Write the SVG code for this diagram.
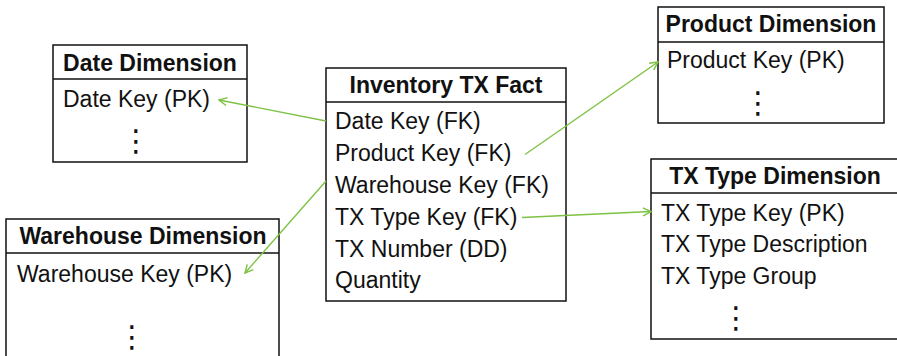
<svg xmlns="http://www.w3.org/2000/svg" width="897" height="356" viewBox="0 0 897 356">
<defs>
<marker id="arr" markerUnits="userSpaceOnUse" markerWidth="12" markerHeight="12" refX="9" refY="5" orient="auto">
<path d="M1,1 L9,5 L1,9" fill="none" stroke="#7dc242" stroke-width="1.4"/>
</marker>
<style>
.box{fill:#fff;stroke:#111;stroke-width:1.5}
.div{stroke:#111;stroke-width:1.5}
.hd{font-family:"Liberation Sans",Arial,sans-serif;font-size:23px;font-weight:bold;fill:#111;text-anchor:middle}
.tx{font-family:"Liberation Sans",Arial,sans-serif;font-size:23px;fill:#111}
.dots{font-family:"DejaVu Sans",sans-serif;font-size:30px;fill:#111;text-anchor:middle}
.con{fill:none;stroke:#7dc242;stroke-width:1.4;marker-end:url(#arr)}
</style>
</defs>
<rect width="897" height="356" fill="#fff"/>
<g id="date-dimension">
<rect class="box" x="53" y="45" width="194" height="117"/>
<line class="div" x1="53" y1="79" x2="247" y2="79"/>
<text class="hd" x="150" y="71">Date Dimension</text>
<text class="tx" x="63" y="107">Date Key (PK)</text>
<text class="dots" x="136" y="151">⋮</text>
</g>
<g id="inventory-tx-fact">
<rect class="box" x="326" y="68" width="240" height="233"/>
<line class="div" x1="326" y1="102" x2="566" y2="102"/>
<text class="hd" x="446" y="93">Inventory TX Fact</text>
<text class="tx" x="335" y="128.5">Date Key (FK)</text>
<text class="tx" x="335" y="160.5">Product Key (FK)</text>
<text class="tx" x="335" y="192.5">Warehouse Key (FK)</text>
<text class="tx" x="335" y="224.5">TX Type Key (FK)</text>
<text class="tx" x="335" y="256.5">TX Number (DD)</text>
<text class="tx" x="335" y="288">Quantity</text>
</g>
<g id="product-dimension">
<rect class="box" x="658" y="7" width="226" height="116"/>
<line class="div" x1="658" y1="42" x2="884" y2="42"/>
<text class="hd" x="771" y="32">Product Dimension</text>
<text class="tx" x="667" y="68">Product Key (PK)</text>
<text class="dots" x="758" y="113">⋮</text>
</g>
<g id="warehouse-dimension">
<rect class="box" x="6" y="219" width="273" height="150"/>
<line class="div" x1="6" y1="253" x2="279" y2="253"/>
<text class="hd" x="143" y="244">Warehouse Dimension</text>
<text class="tx" x="17" y="282">Warehouse Key (PK)</text>
<text class="dots" x="132" y="347">⋮</text>
</g>
<g id="tx-type-dimension">
<rect class="box" x="651" y="159" width="250" height="180"/>
<line class="div" x1="651" y1="193" x2="901" y2="193"/>
<text class="hd" x="775" y="184">TX Type Dimension</text>
<text class="tx" x="661" y="221">TX Type Key (PK)</text>
<text class="tx" x="661" y="252">TX Type Description</text>
<text class="tx" x="661" y="283.5">TX Type Group</text>
<text class="dots" x="736" y="328">⋮</text>
</g>
<g id="connectors">
<line class="con" x1="326" y1="121" x2="219" y2="100"/>
<line class="con" x1="525" y1="154.5" x2="658" y2="62"/>
<line class="con" x1="326" y1="181" x2="245" y2="273"/>
<line class="con" x1="522" y1="217.5" x2="651" y2="211.5"/>
</g>
</svg>
